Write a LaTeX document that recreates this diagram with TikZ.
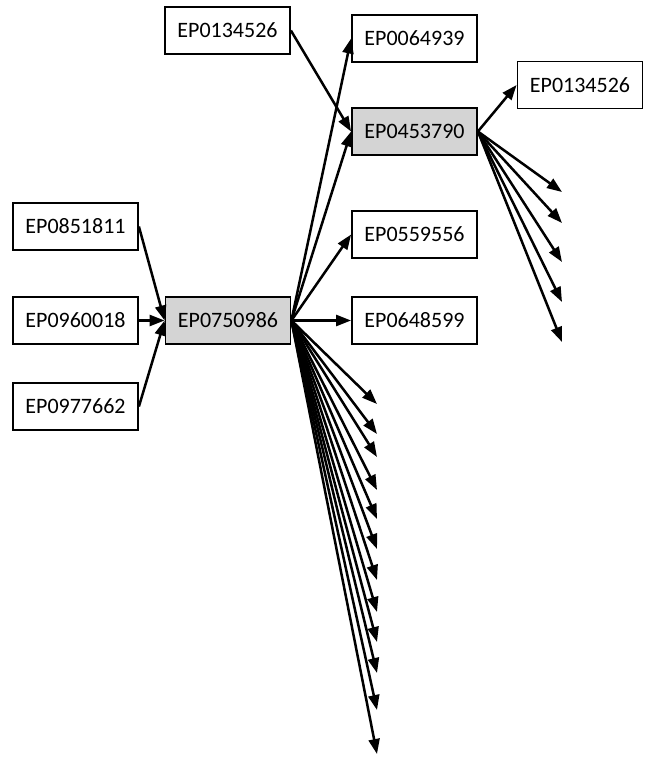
\documentclass[tikz,border=0pt]{standalone}
\usepackage{fontspec}
\setmainfont{Carlito}
\usetikzlibrary{arrows.meta}
\begin{document}
\begin{tikzpicture}[x=1pt,y=-1pt,
  patbox/.style={draw=black,line width=1.8pt,fill=white,minimum width=125pt,minimum height=47pt,inner sep=0pt,font=\fontsize{22}{24}\selectfont},
  hubbox/.style={patbox,fill=black!17},
  edge/.style={line width=2.5pt,-{Triangle[length=15pt,width=11pt]}}]
\useasboundingbox (0,0) rectangle (648,760);
\node[patbox] (a851811) at (75.5,226.5) {EP0851811};
\node[patbox] (a960018) at (75.5,320.5) {EP0960018};
\node[patbox] (a977662) at (75.5,406.5) {EP0977662};
\node[hubbox] (h750986) at (228,320.5) {EP0750986};
\node[patbox] (t134526) at (227.5,30.5) {EP0134526};
\node[patbox] (b064939) at (414.5,38.5) {EP0064939};
\node[hubbox] (h453790) at (414.5,131.5) {EP0453790};
\node[patbox] (b559556) at (414.5,234.5) {EP0559556};
\node[patbox] (b648599) at (414.5,320.5) {EP0648599};
\node[patbox] (r134526) at (580,85) {EP0134526};
% in-edges
\draw[edge] (a851811.east) -- (h750986.west);
\draw[edge] (a960018.east) -- (h750986.west);
\draw[edge] (a977662.east) -- (h750986.west);
\draw[edge] (t134526.east) -- (h453790.west);
% out-edges of EP0750986
\draw[edge] (h750986.east) -- (b064939.west);
\draw[edge] (h750986.east) -- (h453790.west);
\draw[edge] (h750986.east) -- (b559556.west);
\draw[edge] (h750986.east) -- (b648599.west);
\foreach \yy [count=\i] in {404,434,457,490,519,549,580,612,642,673,710,754}{
  \coordinate (f\i) at (377,\yy);
  \draw[edge] (h750986.east) -- (f\i);
}
% out-edges of EP0453790
\draw[edge] (h453790.east) -- (r134526.west);
\foreach \yy [count=\i] in {192,223,262,302,342}{
  \coordinate (g\i) at (562,\yy);
  \draw[edge] (h453790.east) -- (g\i);
}
\end{tikzpicture}
\end{document}
